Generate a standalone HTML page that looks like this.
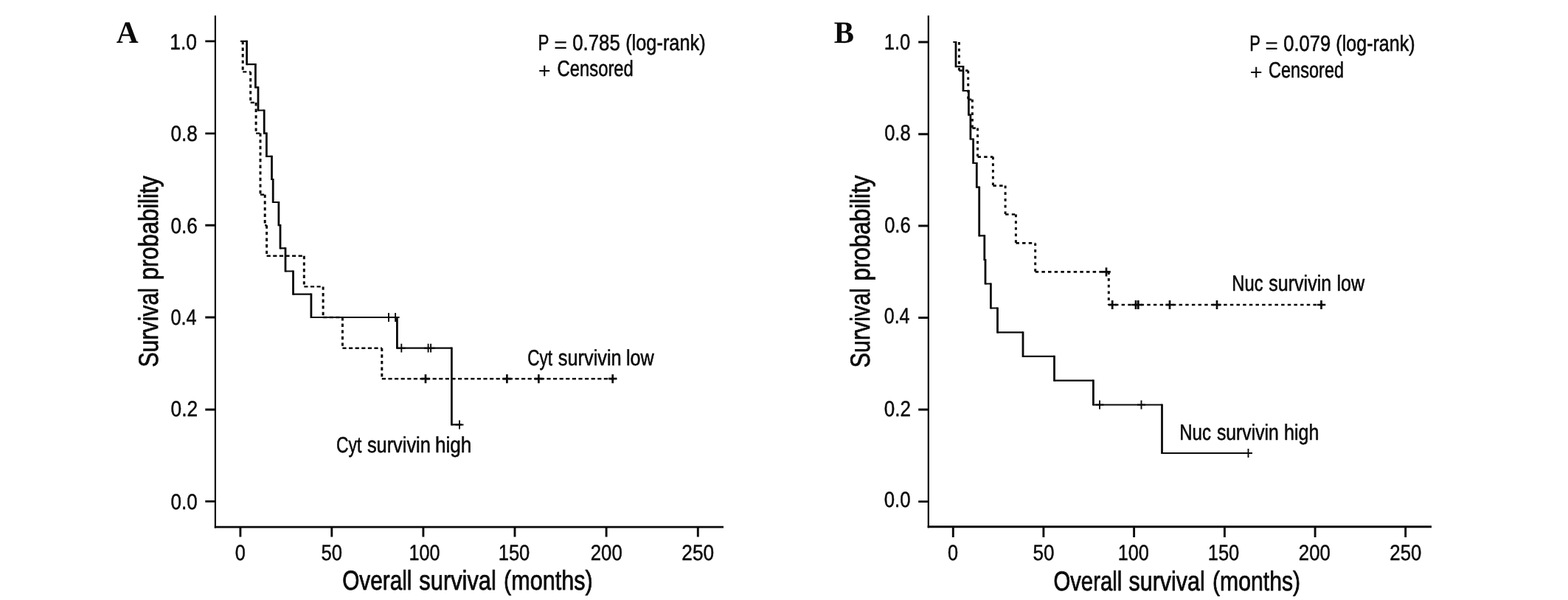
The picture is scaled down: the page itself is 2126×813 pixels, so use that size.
<!DOCTYPE html>
<html lang="en">
<head>
<meta charset="utf-8">
<title>Kaplan-Meier overall survival curves</title>
<style>
html,body{margin:0;padding:0;background:#fff;}
body{width:2126px;height:813px;overflow:hidden;}
svg{display:block;}
text{font-family:"Liberation Sans",Arial,Helvetica,sans-serif;fill:#0a0a0a;stroke:#0a0a0a;stroke-linejoin:round;font-kerning:none;text-rendering:geometricPrecision;}
text.tl{font-size:29.7px;stroke-width:0.5px;}
text.an{font-size:30.1px;stroke-width:0.6px;}
text.ttl{font-size:37.0px;stroke-width:0.8px;}
tspan.sym{stroke:none;}
text.lbl{font-family:"Liberation Serif","Times New Roman",Times,serif;font-weight:bold;font-size:42px;stroke:none;}
.ay{fill:none;stroke:#0a0a0a;stroke-width:2.2;}
.axx,.tk{fill:none;stroke:#0a0a0a;stroke-width:2.9;}
.sol{fill:none;stroke:#0a0a0a;}
.sh{stroke-width:2.2;}
.sv{stroke-width:2.8;}
.dash{fill:none;stroke:#0a0a0a;}
.a-dh{stroke-width:2.4;stroke-dasharray:5.2 3.4;}
.a-dv{stroke-width:3.0;stroke-dasharray:4.4 4.2;}
.b-dh{stroke-width:2.7;stroke-dasharray:4.5 4.16;}
.b-dv{stroke-width:3;stroke-dasharray:3.7 5;}
.cen.cd{stroke-width:2.7;}
.cen{fill:none;stroke:#0a0a0a;stroke-width:1.9;}
</style>
</head>
<body>
<svg width="2126" height="813" viewBox="0 0 2126 813">
<rect x="0" y="0" width="2126" height="813" fill="#ffffff"/>
<g id="panel-a">
<path class="ay" d="M291.9,21V715.5"/>
<path class="axx" d="M290.8,714.1H981"/>
<path class="tk" d="M325.9,714.1V727.6M449.8,714.1V727.6M573.9,714.1V727.6M698.0,714.1V727.6M822.1,714.1V727.6M946.3,714.1V727.6M291.9,679.4H278.3M291.9,555.0H278.3M291.9,430.0H278.3M291.9,305.3H278.3M291.9,180.9H278.3M291.9,55.9H278.3"/>
<text class="tl"><tspan x="318.76" y="759.2" textLength="14.08" lengthAdjust="spacingAndGlyphs">0</tspan></text>
<text class="tl"><tspan x="435.42" y="759.2" textLength="28.53" lengthAdjust="spacingAndGlyphs">50</tspan></text>
<text class="tl"><tspan x="554.53" y="759.2" textLength="42.0" lengthAdjust="spacingAndGlyphs">100</tspan></text>
<text class="tl"><tspan x="675.7" y="759.2" textLength="42.65" lengthAdjust="spacingAndGlyphs">150</tspan></text>
<text class="tl"><tspan x="800.75" y="759.2" textLength="43.0" lengthAdjust="spacingAndGlyphs">200</tspan></text>
<text class="tl"><tspan x="924.33" y="759.2" textLength="43.85" lengthAdjust="spacingAndGlyphs">250</tspan></text>
<text class="tl"><tspan x="231.53" y="689.6" textLength="36.24" lengthAdjust="spacingAndGlyphs">0.0</tspan></text>
<text class="tl"><tspan x="231.52" y="564.2" textLength="36.55" lengthAdjust="spacingAndGlyphs">0.2</tspan></text>
<text class="tl"><tspan x="231.56" y="439.5" textLength="35.13" lengthAdjust="spacingAndGlyphs">0.4</tspan></text>
<text class="tl"><tspan x="231.53" y="315.8" textLength="36.37" lengthAdjust="spacingAndGlyphs">0.6</tspan></text>
<text class="tl"><tspan x="231.53" y="190.5" textLength="36.36" lengthAdjust="spacingAndGlyphs">0.8</tspan></text>
<text class="tl"><tspan x="230.24" y="67.1" textLength="36.75" lengthAdjust="spacingAndGlyphs">1.0</tspan></text>
<path class="dash a-dv" d="M329.2,55.9V97.4M339.7,97.4V139M347.1,139V180.6M353,180.6V263.7M359.2,263.7V305.3M361.6,305.3V346.8M412.3,346.8V388.4M438.1,388.4V430M464.4,430V471.7M517.8,471.7V513.2"/>
<path class="dash a-dh" d="M329.2,97.4H339.7M339.7,139H347.1M347.1,180.6H353M353,263.7H359.2M359.2,305.3H361.6M361.6,346.8H412.3M412.3,388.4H438.1M438.1,430H464.4M464.4,471.7H517.8M517.8,513.2H835"/>
<path class="sol sv" d="M334.6,54.8V88.3M346.4,86.1V119.4M350,117.2V150.6M358.2,148.4V181.7M361.4,179.5V212.9M368.5,210.7V244.1M370.2,241.9V275.1M377.9,272.9V306.3M380,304.1V337.5M387,335.3V368.6M397.5,366.4V399.8M421.9,397.6V431.1M538.4,428.9V472.8M612.4,470.6V576.5"/>
<path class="sol sh" d="M326,55.9H334.6M334.6,87.2H346.4M346.4,118.3H350M350,149.5H358.2M358.2,180.6H361.4M361.4,211.8H368.5M368.5,243H370.2M370.2,274H377.9M377.9,305.2H380M380,336.4H387M387,367.5H397.5M397.5,398.7H421.9M421.9,430H538.4M538.4,471.7H612.4M612.4,575.4H626"/>
<path class="cen" d="M521.5,430.0H532.5M527.0,424.1V435.9M530.6,430.0H541.6M536.1,424.1V435.9M538.8,471.7H549.8M544.3,465.8V477.6M575.1,471.7H586.1M580.6,465.8V477.6M578.6,471.7H589.6M584.1,465.8V477.6M617.5,575.5H628.5M623.0,569.6V581.4"/>
<path class="cen cd" d="M571.2,513.2H582.8M577.0,507.2V519.2M681.6,513.2H693.2M687.4,507.2V519.2M724.6,513.2H736.2M730.4,507.2V519.2M824.9,513.2H836.5M830.7,507.2V519.2"/>
<text class="lbl" x="157.7" y="57.6" textLength="29.91" lengthAdjust="spacingAndGlyphs">A</text>
<text class="an"><tspan x="729.57" y="67.8" textLength="14.91" lengthAdjust="spacingAndGlyphs">P</tspan> <tspan class="sym" x="751.07" y="70.91" textLength="18.27" lengthAdjust="spacingAndGlyphs">=</tspan> <tspan x="776.29" y="67.8" textLength="64.49" lengthAdjust="spacingAndGlyphs">0.785</tspan> <tspan x="848.13" y="67.8" textLength="108.55" lengthAdjust="spacingAndGlyphs">(log-rank)</tspan></text>
<text class="an"><tspan class="sym" x="729.78" y="106.31" textLength="16.95" lengthAdjust="spacingAndGlyphs">+</tspan> <tspan x="755.59" y="103.3" textLength="103.24" lengthAdjust="spacingAndGlyphs">Censored</tspan></text>
<text class="an"><tspan x="715.26" y="494.8" textLength="33.81" lengthAdjust="spacingAndGlyphs">Cyt</tspan> <tspan x="756.79" y="494.8" textLength="85.95" lengthAdjust="spacingAndGlyphs">survivin</tspan> <tspan x="848.91" y="494.8" textLength="37.73" lengthAdjust="spacingAndGlyphs">low</tspan></text>
<text class="an"><tspan x="456.04" y="613.4" textLength="34.33" lengthAdjust="spacingAndGlyphs">Cyt</tspan> <tspan x="497.89" y="613.4" textLength="85.95" lengthAdjust="spacingAndGlyphs">survivin</tspan> <tspan x="589.88" y="613.4" textLength="49.52" lengthAdjust="spacingAndGlyphs">high</tspan></text>
<text class="ttl"><tspan x="464.19" y="798.7" textLength="94.2" lengthAdjust="spacingAndGlyphs">Overall</tspan> <tspan x="568.34" y="798.7" textLength="104.52" lengthAdjust="spacingAndGlyphs">survival</tspan> <tspan x="683.1" y="798.7" textLength="120.59" lengthAdjust="spacingAndGlyphs">(months)</tspan></text>
<text class="ttl" transform="translate(213.8 0) rotate(-90)"><tspan x="-497.57" y="0" textLength="107.6" lengthAdjust="spacingAndGlyphs">Survival</tspan> <tspan x="-379.3" y="0" textLength="141.16" lengthAdjust="spacingAndGlyphs">probability</tspan></text>
</g>
<g id="panel-b">
<path class="ay" d="M1258.8,21V715.2"/>
<path class="axx" d="M1257.7,713.8H1941"/>
<path class="tk" d="M1292.3,713.8V728.0M1414.9,713.8V728.0M1537.6,713.8V728.0M1660.4,713.8V728.0M1783.1,713.8V728.0M1905.7,713.8V728.0M1258.8,679.6H1245.2M1258.8,555.0H1245.2M1258.8,430.5H1245.2M1258.8,306.0H1245.2M1258.8,181.8H1245.2M1258.8,57.0H1245.2"/>
<text class="tl"><tspan x="1284.96" y="758.8" textLength="14.08" lengthAdjust="spacingAndGlyphs">0</tspan></text>
<text class="tl"><tspan x="1400.51" y="758.8" textLength="28.96" lengthAdjust="spacingAndGlyphs">50</tspan></text>
<text class="tl"><tspan x="1515.72" y="758.8" textLength="42.22" lengthAdjust="spacingAndGlyphs">100</tspan></text>
<text class="tl"><tspan x="1637.7" y="758.8" textLength="42.65" lengthAdjust="spacingAndGlyphs">150</tspan></text>
<text class="tl"><tspan x="1760.85" y="758.8" textLength="43.0" lengthAdjust="spacingAndGlyphs">200</tspan></text>
<text class="tl"><tspan x="1884.35" y="758.8" textLength="43.0" lengthAdjust="spacingAndGlyphs">250</tspan></text>
<text class="tl"><tspan x="1198.74" y="686.9" textLength="35.81" lengthAdjust="spacingAndGlyphs">0.0</tspan></text>
<text class="tl"><tspan x="1198.73" y="563.7" textLength="36.12" lengthAdjust="spacingAndGlyphs">0.2</tspan></text>
<text class="tl"><tspan x="1198.77" y="437.9" textLength="34.71" lengthAdjust="spacingAndGlyphs">0.4</tspan></text>
<text class="tl"><tspan x="1199.15" y="315.2" textLength="35.52" lengthAdjust="spacingAndGlyphs">0.6</tspan></text>
<text class="tl"><tspan x="1199.15" y="190.4" textLength="35.51" lengthAdjust="spacingAndGlyphs">0.8</tspan></text>
<text class="tl"><tspan x="1198.8" y="67.2" textLength="35.55" lengthAdjust="spacingAndGlyphs">1.0</tspan></text>
<path class="dash b-dv" d="M1300.4,57V95.7M1312.7,95.7V134.8M1318.4,134.8V173.6M1325.5,173.6V212.6M1346.4,212.6V251.6M1363.1,251.6V290.5M1377.4,290.5V329.4M1403.7,329.4V368.4M1503.3,368.4V413"/>
<path class="dash b-dh" d="M1300.4,95.7H1312.7M1312.7,134.8H1318.4M1318.4,173.6H1325.5M1325.5,212.6H1346.4M1346.4,251.6H1363.1M1363.1,290.5H1377.4M1377.4,329.4H1403.7M1403.7,368.4H1503.3M1503.3,413H1796"/>
<path class="sol sv" d="M1296,55.9V91.3M1306,89.1V124.1M1313.4,121.9V156.8M1315.9,154.6V189.6M1319.6,187.4V222.1M1324.3,219.9V254.7M1327.7,252.5V320.4M1334.8,318.2V353.1M1336,350.9V385.6M1343.4,383.4V418.6M1352.5,416.4V451.4M1387,449.2V483.9M1429.5,481.7V516.7M1482.4,514.5V549.6M1575.5,547.4V615.1"/>
<path class="sol sh" d="M1292.3,57H1296M1296,90.2H1306M1306,123H1313.4M1313.4,155.7H1315.9M1315.9,188.5H1319.6M1319.6,221H1324.3M1324.3,253.6H1327.7M1327.7,319.3H1334.8M1334.8,352H1336M1336,384.5H1343.4M1343.4,417.5H1352.5M1352.5,450.3H1387M1387,482.8H1429.5M1429.5,515.6H1482.4M1482.4,548.5H1575.5M1575.5,614H1696"/>
<path class="cen" d="M1485.5,548.5H1496.5M1491.0,542.6V554.4M1542.0,548.5H1553.0M1547.5,542.6V554.4M1687.0,614.0H1698.0M1692.5,608.1V619.9"/>
<path class="cen cd" d="M1494.2,368.4H1505.8M1500.0,362.4V374.4M1502.4,413.0H1514.0M1508.2,407.0V419.0M1534.2,413.0H1545.8M1540.0,407.0V419.0M1537.5,413.0H1549.1M1543.3,407.0V419.0M1580.2,413.0H1591.8M1586.0,407.0V419.0M1644.2,413.0H1655.8M1650.0,407.0V419.0M1785.7,413.0H1797.3M1791.5,407.0V419.0"/>
<text class="lbl" x="1130.72" y="57.6" textLength="27.21" lengthAdjust="spacingAndGlyphs">B</text>
<text class="an"><tspan x="1694.2" y="69.1" textLength="14.66" lengthAdjust="spacingAndGlyphs">P</tspan> <tspan class="sym" x="1715.31" y="72.21" textLength="17.79" lengthAdjust="spacingAndGlyphs">=</tspan> <tspan x="1740.2" y="69.1" textLength="63.91" lengthAdjust="spacingAndGlyphs">0.079</tspan> <tspan x="1811.34" y="69.1" textLength="107.31" lengthAdjust="spacingAndGlyphs">(log-rank)</tspan></text>
<text class="an"><tspan class="sym" x="1694.78" y="107.51" textLength="16.95" lengthAdjust="spacingAndGlyphs">+</tspan> <tspan x="1720.0" y="104.5" textLength="102.11" lengthAdjust="spacingAndGlyphs">Censored</tspan></text>
<text class="an"><tspan x="1670.35" y="393.6" textLength="42.17" lengthAdjust="spacingAndGlyphs">Nuc</tspan> <tspan x="1720.3" y="393.6" textLength="84.92" lengthAdjust="spacingAndGlyphs">survivin</tspan> <tspan x="1812.41" y="393.6" textLength="37.73" lengthAdjust="spacingAndGlyphs">low</tspan></text>
<text class="an"><tspan x="1599.23" y="595.8" textLength="42.81" lengthAdjust="spacingAndGlyphs">Nuc</tspan> <tspan x="1649.91" y="595.8" textLength="84.0" lengthAdjust="spacingAndGlyphs">survivin</tspan> <tspan x="1741.06" y="595.8" textLength="47.47" lengthAdjust="spacingAndGlyphs">high</tspan></text>
<text class="ttl"><tspan x="1428.41" y="799.6" textLength="92.85" lengthAdjust="spacingAndGlyphs">Overall</tspan> <tspan x="1530.55" y="799.6" textLength="103.18" lengthAdjust="spacingAndGlyphs">survival</tspan> <tspan x="1644.03" y="799.6" textLength="119.15" lengthAdjust="spacingAndGlyphs">(months)</tspan></text>
<text class="ttl" transform="translate(1178.5 0) rotate(-90)"><tspan x="-498.18" y="0" textLength="108.01" lengthAdjust="spacingAndGlyphs">Survival</tspan> <tspan x="-380.52" y="0" textLength="142.98" lengthAdjust="spacingAndGlyphs">probability</tspan></text>
</g>
</svg>
</body>
</html>
